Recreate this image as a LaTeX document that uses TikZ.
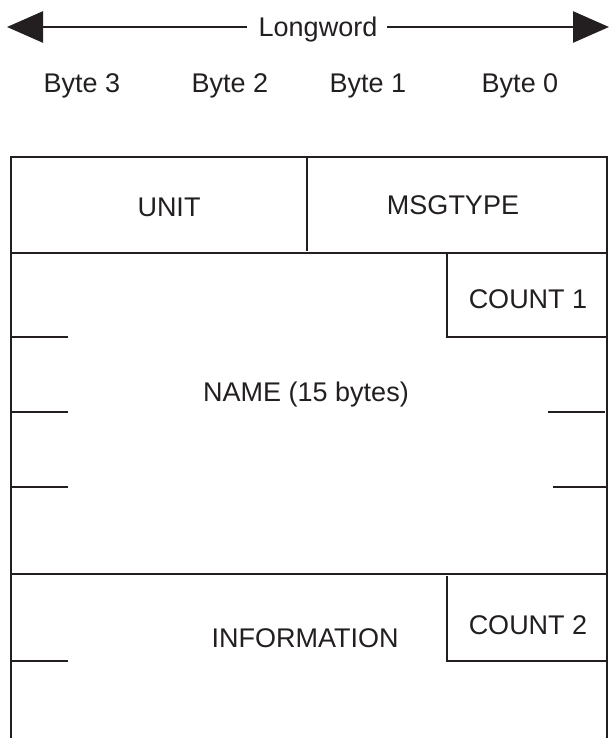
\documentclass[tikz,border=0pt]{standalone}
\usepackage{fontspec}
\setmainfont{Liberation Sans}
\usetikzlibrary{arrows.meta}
\definecolor{ink}{HTML}{231F20}
\begin{document}
\begin{tikzpicture}[x=1pt,y=-1pt, color=ink,
  lbl/.style={font=\fontsize{27}{31}\selectfont, inner sep=0pt, text height=19.4pt, text depth=0pt, text=ink},
  ln/.style={line width=2.5pt, line cap=rect},
  tick/.style={line width=2.5pt},
  arr/.style={line width=2.6pt, -{Triangle[length=36pt,width=31pt]}}]
\useasboundingbox (0,0) rectangle (610,738);
% top arrow
\node[lbl] (lw) at (318,27) {Longword};
\coordinate (la) at (7,27);
\coordinate (ra) at (609,27);
\draw[arr] ([xshift=-12pt]lw.west) -- (la);
\draw[arr] ([xshift=10pt]lw.east) -- (ra);
% byte labels
\node[lbl] (b3) at (82,83) {Byte 3};
\node[lbl] (b2) at (230,83) {Byte 2};
\node[lbl] (b1) at (368,83) {Byte 1};
\node[lbl] (b0) at (520,83) {Byte 0};
% frame
\draw[ln] (11,738) -- (11,157) -- (607,157) -- (607,738);
\draw[ln] (11,253) -- (607,253);
\draw[ln] (307,157) -- (307,250);
\draw[ln] (447,253) -- (447,337) -- (607,337);
\draw[tick] (11,337) -- (68,337);
\draw[tick] (11,412) -- (68,412);
\draw[tick] (11,487) -- (68,487);
\draw[tick] (548,412) -- (605,412);
\draw[tick] (553,487) -- (607,487);
\draw[ln] (11,574) -- (607,574);
\draw[ln] (447,577) -- (447,661) -- (607,661);
\draw[tick] (11,661) -- (68,661);
% field labels
\node[lbl] (unit) at (169,207) {UNIT};
\node[lbl] (msg) at (453,205) {MSGTYPE};
\node[lbl] (c1) at (528,299) {COUNT 1};
\node[lbl] (name) at (306,392) {NAME (15 bytes)};
\node[lbl] (info) at (305,638) {INFORMATION};
\node[lbl] (c2) at (528,625) {COUNT 2};
\end{tikzpicture}
\end{document}
